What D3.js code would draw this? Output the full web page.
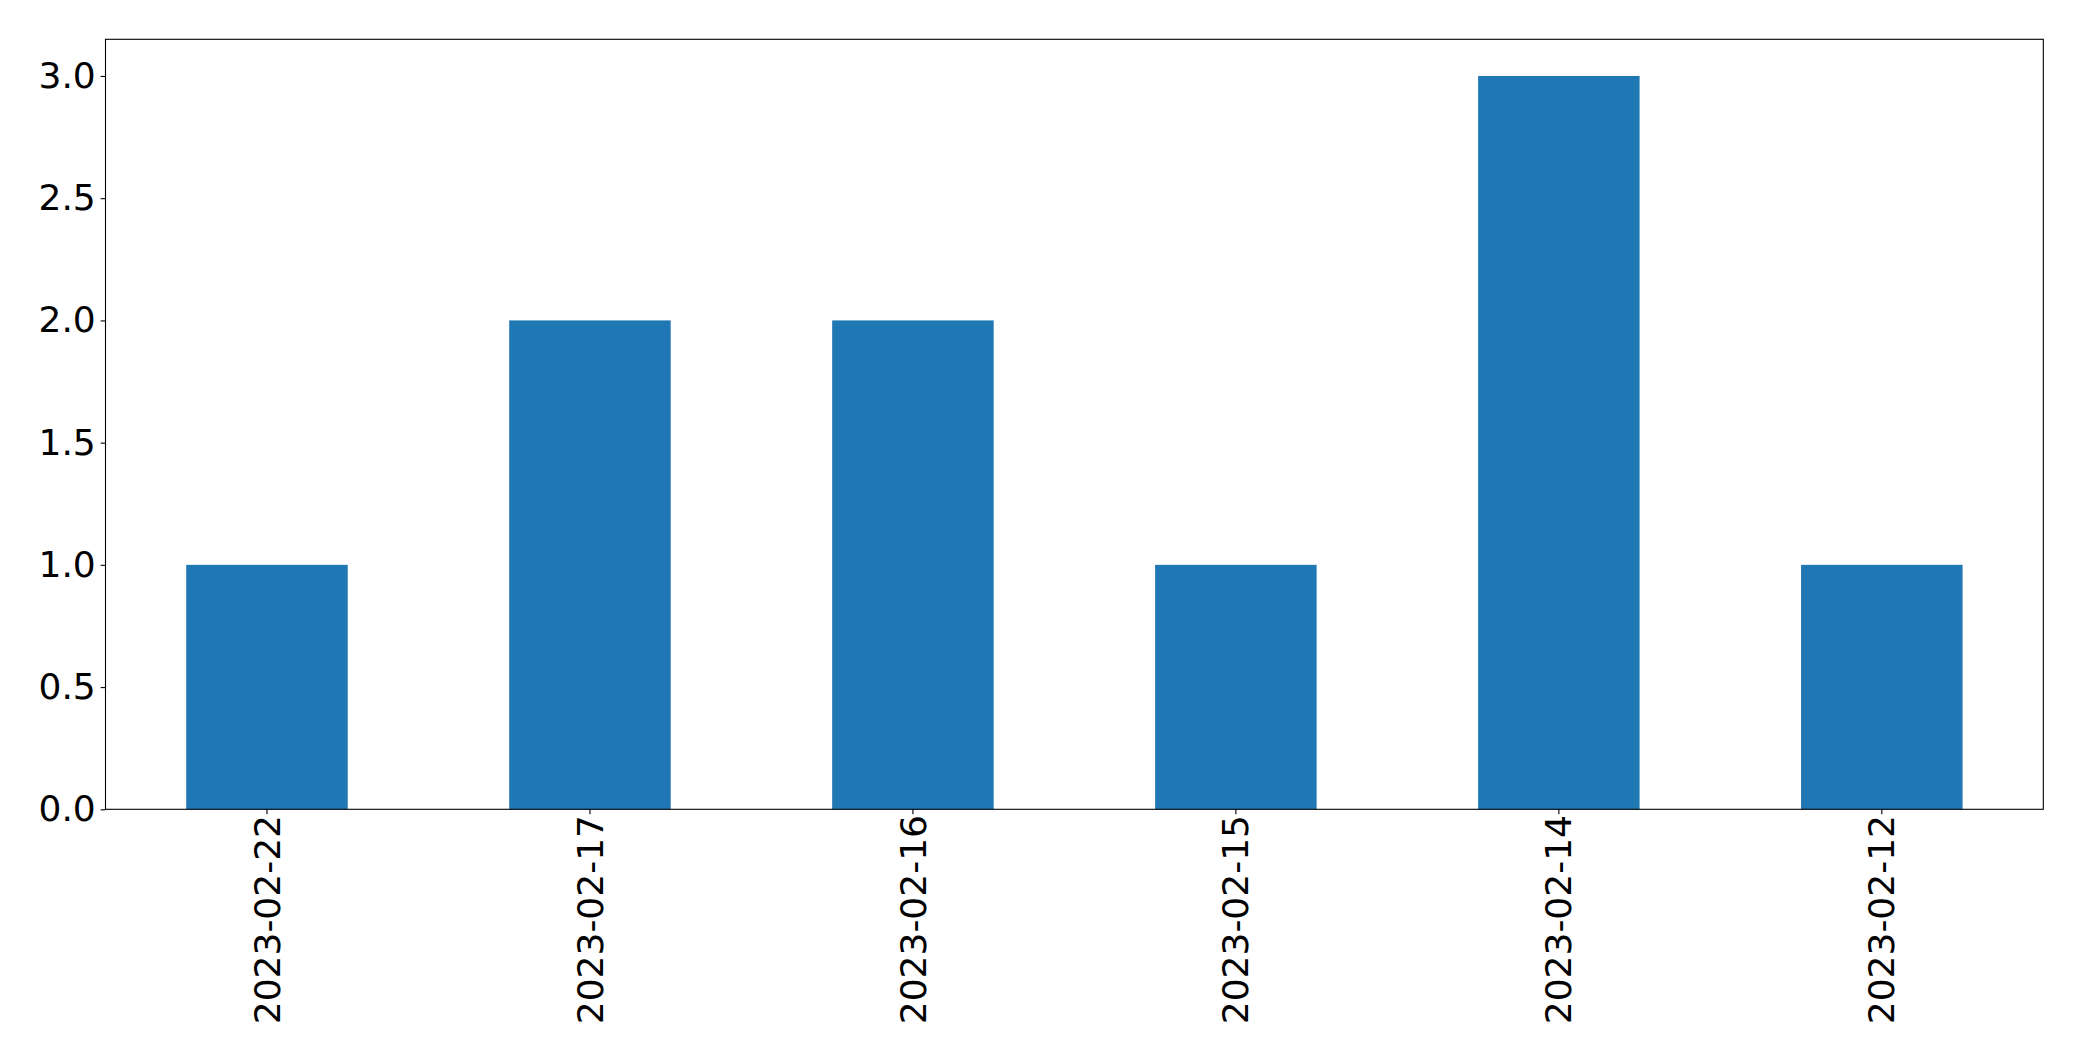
<!DOCTYPE html>
<html>
<head>
<meta charset="utf-8">
<script src="https://cdn.jsdelivr.net/npm/d3@7"></script>
<style>
  html, body { margin: 0; padding: 0; background: #ffffff; }
  svg { display: block; }
  text { font-family: "DejaVu Sans", sans-serif; }
</style>
</head>
<body>
<svg id="chart" width="2082" height="1061"></svg>
<script>
const categories = ["2023-02-22", "2023-02-17", "2023-02-16", "2023-02-15", "2023-02-14", "2023-02-12"];
const values = [1, 2, 2, 1, 3, 1];
const yTicks = [0.0, 0.5, 1.0, 1.5, 2.0, 2.5, 3.0];

const W = 2082, H = 1061;
const margin = { left: 105.5, right: W - 2043.3, top: 39.3, bottom: H - 809.3 };
const iw = W - margin.left - margin.right;
const ih = H - margin.top - margin.bottom;

const svg = d3.select("#chart");
const g = svg.append("g").attr("transform", `translate(${margin.left},${margin.top})`);

const x = d3.scaleBand().domain(categories).range([0, iw]).paddingInner(0.5).paddingOuter(0.25);
const y = d3.scaleLinear().domain([0, 3.15]).range([ih, 0]);

g.selectAll("rect.bar").data(values).join("rect")
  .attr("class", "bar")
  .attr("x", (d, i) => x(categories[i]))
  .attr("width", x.bandwidth())
  .attr("y", d => y(d))
  .attr("height", d => y(0) - y(d))
  .attr("fill", "#1f77b4");

const fontSize = 36;
const tickLen = 4.86;
const pad = 4.86;

const yAxis = d3.axisLeft(y).tickValues(yTicks).tickFormat(d3.format(".1f")).tickSize(tickLen).tickPadding(pad);
const ya = g.append("g").call(yAxis);
ya.select(".domain").remove();
ya.selectAll("line").attr("stroke", "#000").attr("stroke-width", 1.1);
ya.selectAll("text").attr("font-size", fontSize).attr("fill", "#000").attr("font-family", "DejaVu Sans");

const xAxis = d3.axisBottom(x).tickSize(tickLen).tickPadding(pad);
const xa = g.append("g").attr("transform", `translate(0,${ih})`).call(xAxis);
xa.select(".domain").remove();
xa.selectAll("line").attr("stroke", "#000").attr("stroke-width", 1.1);
xa.selectAll("text")
  .attr("font-size", fontSize).attr("fill", "#000").attr("font-family", "DejaVu Sans")
  .attr("transform", "rotate(-90)")
  .attr("text-anchor", "end")
  .attr("x", -(tickLen + pad - 4))
  .attr("y", 0)
  .attr("dy", "0.35em");

g.append("rect")
  .attr("x", 0).attr("y", 0).attr("width", iw).attr("height", ih)
  .attr("fill", "none").attr("stroke", "#000").attr("stroke-width", 1.1);
</script>
</body>
</html>
